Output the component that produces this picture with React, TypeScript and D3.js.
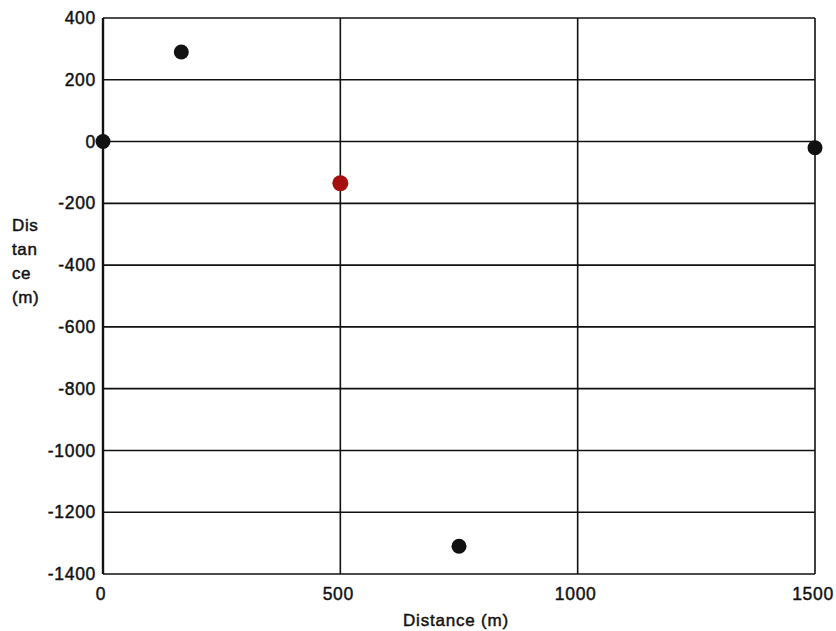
import * as d3 from 'd3';

// point data
const pointX = [0, 165, 500, 750, 1500];
const pointY = [0, 290, -135, -1310, -20];
const pointColor = ['#111', '#111', '#a50f0f', '#111', '#111'];

const xTicks = [0, 500, 1000, 1500];
const yTicks = [400, 200, 0, -200, -400, -600, -800, -1000, -1200, -1400];
const yTitleLines = ['Dis', 'tan', 'ce', '(m)'];

const W = 836;
const H = 631;
const margin = { top: 18, right: 21, bottom: 57, left: 103 };

const App = () => {
  const x = d3.scaleLinear()
    .domain([0, 1500])
    .range([margin.left, W - margin.right]);
  const y = d3.scaleLinear()
    .domain([-1400, 400])
    .range([H - margin.bottom, margin.top]);

  const font = '"Liberation Sans", Arial, sans-serif';
  const x0 = x(0), x1 = x(1500), y0 = y(400), y1 = y(-1400);
  // scanned text looks a bit heavy, so give it a thin stroke
  const textStyle = { fontFamily: font, fill: '#111', stroke: '#111', strokeWidth: 0.45 };

  return (
    <svg width={W} height={H} style={{ position: 'absolute', left: 0, top: 0, background: '#fff' }}>
      {/* horizontal grid */}
      {yTicks.map(t => (
        <line key={'h' + t} x1={x0} x2={x1} y1={y(t)} y2={y(t)} stroke="#111" strokeWidth={1.6} />
      ))}
      {/* vertical grid */}
      {xTicks.map(t => (
        <line key={'v' + t} x1={x(t)} x2={x(t)} y1={y0} y2={y1} stroke="#111" strokeWidth={1.6} />
      ))}
      <line x1={x0} x2={x0} y1={y0} y2={y1} stroke="#111" strokeWidth={2.4} />

      {/* y tick labels */}
      {yTicks.map(t => (
        <text key={'yl' + t} x={x0 - 7} y={y(t)} dy="0.35em" textAnchor="end"
          fontSize={17.5} letterSpacing={0.7} style={textStyle}>
          {t}
        </text>
      ))}
      {/* x tick labels */}
      {xTicks.map(t => (
        <text key={'xl' + t} x={x(t) - 2} y={y1 + 20} dy="0.35em" textAnchor="middle"
          fontSize={17.5} letterSpacing={0.7} style={textStyle}>
          {t}
        </text>
      ))}

      <text x={(x0 + x1) / 2 - 3} y={620} dy="0.35em" textAnchor="middle"
        fontSize={17} letterSpacing={0.8} style={textStyle}>
        Distance (m)
      </text>
      {yTitleLines.map((s, i) => (
        <text key={s} x={12} y={225 + i * 24} dy="0.35em"
          fontSize={17} letterSpacing={0.6} style={textStyle}>
          {s}
        </text>
      ))}

      {/* points */}
      {pointX.map((px, i) => (
        <circle key={'p' + i} cx={x(px)} cy={y(pointY[i])}
          r={i === 2 ? 8 : 7.5} fill={pointColor[i]} />
      ))}
    </svg>
  );
};

export default App;
